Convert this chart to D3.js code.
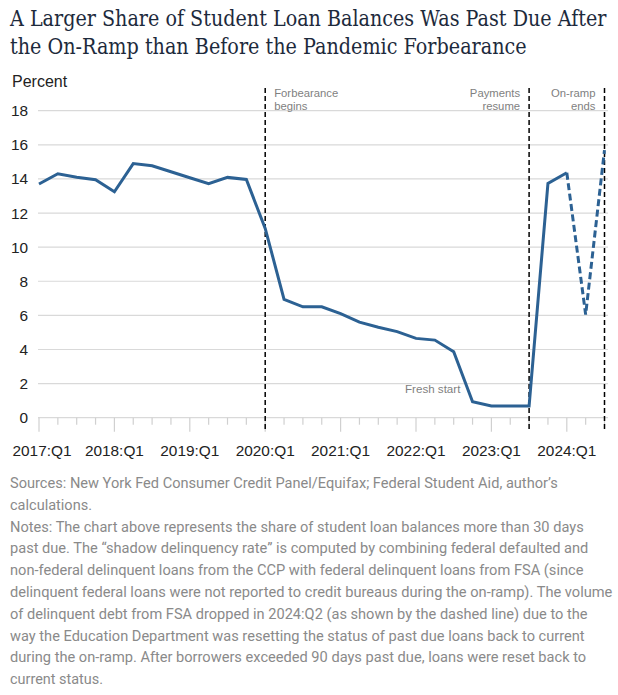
<!DOCTYPE html>
<meta charset="utf-8">
<script src="https://d3js.org/d3.v7.min.js"></script>
<style>
  body { margin: 0; background: #fff; }
</style>
<div id="chart"></div>
<script>

  // quarters, 2017:Q1 .. 2024:Q3
  var quarters = ["2017:Q1","2017:Q2","2017:Q3","2017:Q4","2018:Q1","2018:Q2","2018:Q3","2018:Q4",
                  "2019:Q1","2019:Q2","2019:Q3","2019:Q4","2020:Q1","2020:Q2","2020:Q3","2020:Q4",
                  "2021:Q1","2021:Q2","2021:Q3","2021:Q4","2022:Q1","2022:Q2","2022:Q3","2022:Q4",
                  "2023:Q1","2023:Q2","2023:Q3","2023:Q4","2024:Q1","2024:Q2","2024:Q3"];

  // share of balances past due, percent
  var pastDue = [13.7, 14.3, 14.1, 13.95, 13.25, 14.9, 14.77, 14.42,
                 14.07, 13.72, 14.09, 13.97, 11.1, 6.94, 6.5, 6.5,
                 6.1, 5.6, 5.3, 5.05, 4.65, 4.55, 3.87, 0.94,
                 0.69, 0.69, 0.69, 13.74, 14.36, 6.05, 15.69];

  // dashed from this quarter on
  var dashedFrom = "2024:Q1";

  var yTicks = [0, 2, 4, 6, 8, 10, 12, 14, 16, 18];
  var xLabels = ["2017:Q1","2018:Q1","2019:Q1","2020:Q1","2021:Q1","2022:Q1","2023:Q1","2024:Q1"];

  var events = [
    {q: "2020:Q1", lines: ["Forbearance", "begins"], side: "right"},
    {q: "2023:Q3", lines: ["Payments", "resume"], side: "left"},
    {q: "2024:Q3", lines: ["On-ramp", "ends"], side: "left"}
  ];

  var title = ["A Larger Share of Student Loan Balances Was Past Due After",
               "the On-Ramp than Before the Pandemic Forbearance"];
  var titleWidths = [597, 517];

  var notes = [
    "Sources: New York Fed Consumer Credit Panel/Equifax; Federal Student Aid, author\u2019s",
    "calculations.",
    "Notes: The chart above represents the share of student loan balances more than 30 days",
    "past due. The \u201Cshadow delinquency rate\u201D is computed by combining federal defaulted and",
    "non-federal delinquent loans from the CCP with federal delinquent loans from FSA (since",
    "delinquent federal loans were not reported to credit bureaus during the on-ramp). The volume",
    "of delinquent debt from FSA dropped in 2024:Q2 (as shown by the dashed line) due to the",
    "way the Education Department was resetting the status of past due loans back to current",
    "during the on-ramp. After borrowers exceeded 90 days past due, loans were reset back to",
    "current status."
  ];
  // rendered width of each note line
  var noteWidths = [548, 82, 574, 579, 574, 603, 578, 575, 577, 93];

  var W = 618, H = 695;
  var svg = d3.select("#chart").append("svg")
    .attr("width", W).attr("height", H);

  svg.append("rect").attr("width", W).attr("height", H).attr("fill", "#fff");

  // squeeze a text line horizontally to a given width (like a condensed face)
  function fit(sel, x0, yOf, widths) {
    sel.each(function(d, i) {
      var n = this.getComputedTextLength();
      var s = widths[i] / n;
      d3.select(this).attr("transform",
        "translate(" + x0 + "," + yOf(i) + ") scale(" + s + ",1)");
    });
  }

  // title
  var titleText = svg.selectAll(".title")
    .data(title)
    .enter().append("text")
      .attr("class", "title")
      .style("font-family", "'DejaVu Serif', serif")
      .style("font-size", "22px")
      .style("fill", "#1d2a3c")
      .text(function(d) { return d; });
  fit(titleText, 10, function(i) { return 25.5 + i * 28; }, titleWidths);

  svg.append("text")
    .attr("x", 12).attr("y", 87)
    .style("font-family", "'Liberation Sans', Arial, sans-serif")
    .style("font-size", "16px")
    .style("fill", "#222")
    .text("Percent");

  // scales
  var x = d3.scaleLinear().domain([0, quarters.length - 1]).range([39, 604.5]);
  var y = d3.scaleLinear().domain([0, 18]).range([417.7, 110.7]);
  var qx = function(q) { return x(quarters.indexOf(q)); };

  // gridlines
  svg.append("g")
    .selectAll("line")
    .data(yTicks)
    .enter().append("line")
      .attr("x1", 38).attr("x2", 608)
      .attr("y1", function(d) { return y(d); })
      .attr("y2", function(d) { return y(d); })
      .attr("stroke", "#d9d9d9")
      .attr("stroke-width", 1.2);

  svg.append("g")
    .selectAll("text")
    .data(yTicks)
    .enter().append("text")
      .attr("x", 28)
      .attr("y", function(d) { return y(d) + 5.5; })
      .attr("text-anchor", "end")
      .style("font-family", "'Liberation Sans', Arial, sans-serif")
      .style("font-size", "15.4px")
      .style("fill", "#222")
      .text(function(d) { return d; });

  // quarter ticks
  svg.append("g")
    .selectAll("line")
    .data(quarters)
    .enter().append("line")
      .attr("x1", function(d) { return qx(d); })
      .attr("x2", function(d) { return qx(d); })
      .attr("y1", y(0))
      .attr("y2", function(d) { return y(0) + (xLabels.indexOf(d) >= 0 ? 14 : 7); })
      .attr("stroke", "#d0d0d0")
      .attr("stroke-width", 1.2);

  svg.append("g")
    .selectAll("text")
    .data(xLabels)
    .enter().append("text")
      .attr("x", function(d, i) { return i == 0 ? 12.5 : qx(d); })
      .attr("y", 456)
      .attr("text-anchor", function(d, i) { return i == 0 ? "start" : "middle"; })
      .style("font-family", "'Liberation Sans', Arial, sans-serif")
      .style("font-size", "15.4px")
      .style("fill", "#222")
      .text(function(d) { return d; });

  // event lines
  svg.append("g")
    .selectAll("line")
    .data(events)
    .enter().append("line")
      .attr("x1", function(d) { return qx(d.q); })
      .attr("x2", function(d) { return qx(d.q); })
      .attr("y1", 88).attr("y2", 431)
      .attr("stroke", "#000")
      .attr("stroke-width", 1.5)
      .attr("stroke-dasharray", "5,3");

  events.forEach(function(ev) {
    var t = svg.append("text")
      .attr("text-anchor", ev.side == "right" ? "start" : "end")
      .style("font-family", "'Liberation Sans', Arial, sans-serif")
      .style("font-size", "11.3px")
      .style("fill", "#7f7f7f");
    ev.lines.forEach(function(l, i) {
      t.append("tspan")
        .attr("x", qx(ev.q) + (ev.side == "right" ? 9 : -9))
        .attr("y", 97 + i * 12.5)
        .text(l);
    });
  });

  svg.append("text")
    .attr("x", 405).attr("y", 393)
    .style("font-family", "'Liberation Sans', Arial, sans-serif")
    .style("font-size", "11.6px")
    .style("fill", "#7f7f7f")
    .text("Fresh start");

  // series
  var pts = quarters.map(function(q, i) { return {q: q, i: i, v: pastDue[i]}; });
  var cut = quarters.indexOf(dashedFrom);
  var line = d3.line()
    .x(function(d) { return x(d.i); })
    .y(function(d) { return y(d.v); });

  svg.append("path")
    .datum(pts.slice(0, cut + 1))
    .attr("d", line)
    .attr("fill", "none")
    .attr("stroke", "#2c6193")
    .attr("stroke-width", 3);

  svg.append("path")
    .datum(pts.slice(cut))
    .attr("d", line)
    .attr("fill", "none")
    .attr("stroke", "#2c6193")
    .attr("stroke-width", 3)
    .attr("stroke-dasharray", "7,3.5");

  // sources & notes
  var noteText = svg.append("g")
    .selectAll("text")
    .data(notes)
    .enter().append("text")
      .style("font-family", "Roboto, sans-serif")
      .style("font-size", "15.5px")
      .style("fill", "#8a8a8a")
      .text(function(d) { return d; });
  fit(noteText, 10, function(i) { return 488 + i * 21.8; }, noteWidths);

</script>
